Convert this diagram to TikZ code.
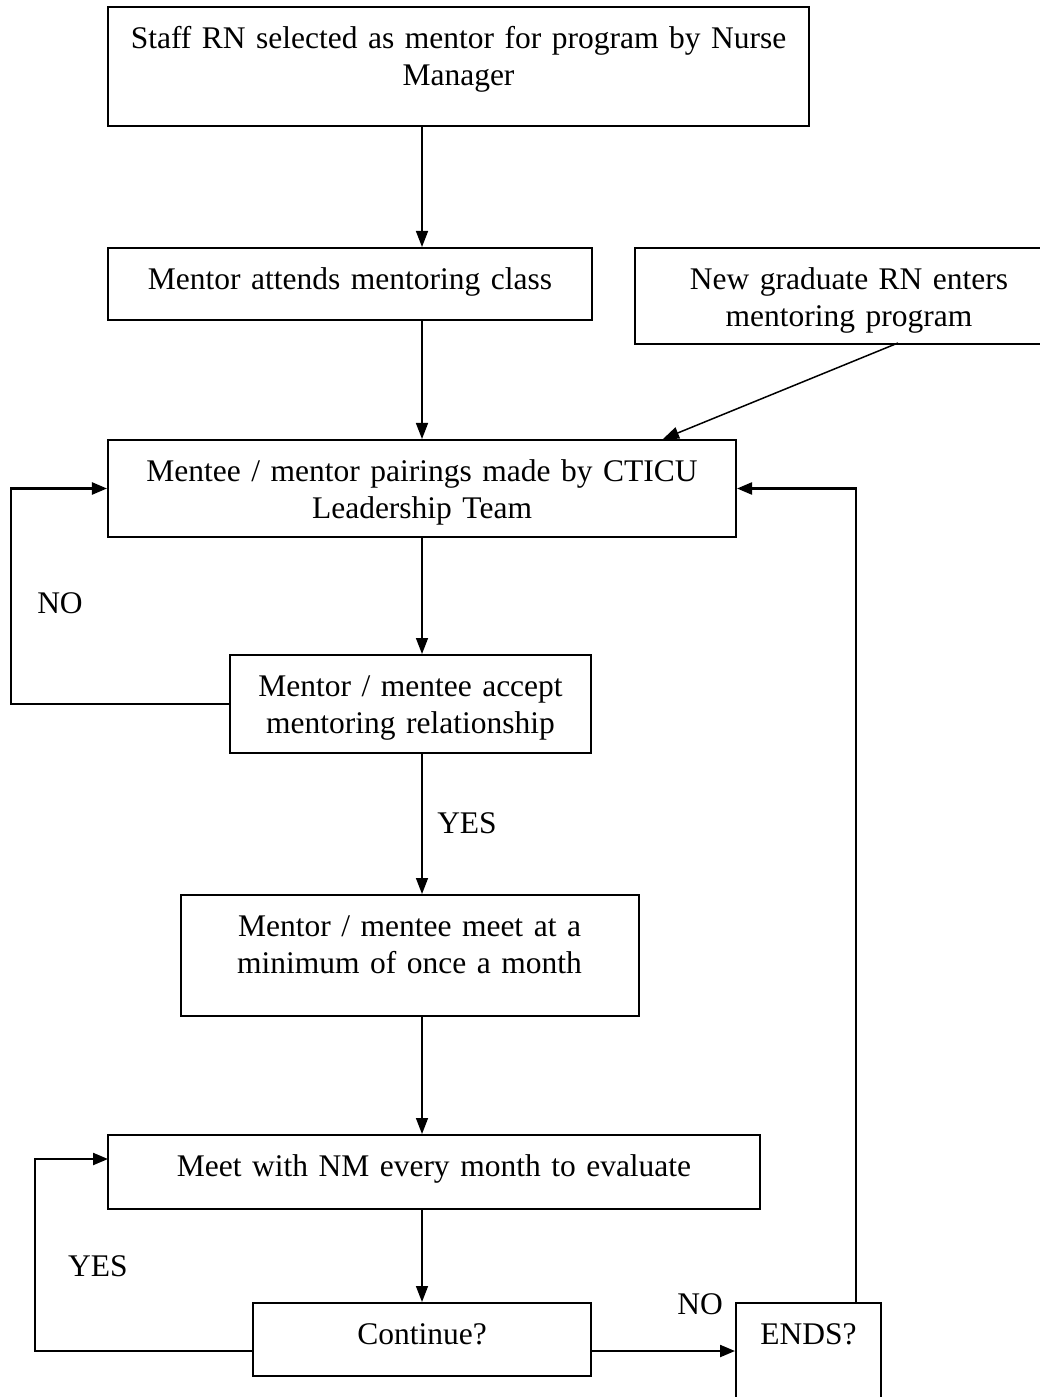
\documentclass[tikz,border=0pt]{standalone}
\usepackage{fontspec}
\setmainfont{Liberation Serif}
\usetikzlibrary{arrows.meta}

\begin{document}
\begin{tikzpicture}[x=0.4pt,y=-0.4pt,
  box/.style={draw,line width=0.8pt,anchor=north,align=center,inner xsep=0pt,inner ysep=0pt,
    font=\fontsize{12.6}{14.8}\selectfont,text height=16.6pt},
  arr/.style={line width=0.6pt,-{Triangle[length=6.4pt,width=4.8pt]}},
  loop/.style={line width=0.9pt,-{Triangle[length=6pt,width=4.8pt]}},
  tag/.style={font=\fontsize{12.6}{14.8}\selectfont,inner sep=0pt}]
\useasboundingbox (0,0) rectangle (1039,1397);
\node[box,text width=280.4pt,text depth=31pt] (staff) at (458.5,6) {Staff RN selected as mentor for program by Nurse\\Manager};
\node[box,text width=193.6pt,text depth=12.2pt] (class) at (350,247) {Mentor attends mentoring class};
\node[box,text width=171.2pt,text depth=21.8pt] (newgrad) at (849,247) {New graduate RN enters\\mentoring program};
\node[box,text width=251.2pt,text depth=22.2pt] (pair) at (422,439) {Mentee / mentor pairings made by CTICU\\Leadership Team};
\node[box,text width=144.4pt,text depth=22.6pt] (accept) at (410.5,654) {Mentor / mentee accept\\mentoring relationship};
\node[box,text width=183.2pt,text depth=31.8pt] (meet) at (409.5,894) {Mentor / mentee meet at a\\minimum of once a month};
\node[box,text width=260.8pt,text depth=13pt] (eval) at (434,1134) {Meet with NM every month to evaluate};
\node[box,text width=135.2pt,text depth=12.6pt] (cont) at (422,1302) {Continue?};
\node[box,text width=58pt,text depth=39.4pt] (ends) at (808.5,1302) {ENDS?};
% decision labels
\node[tag] (no1) at (60,603) {NO};
\node[tag] (yes1) at (467,823) {YES};
\node[tag] (yes2) at (98,1266) {YES};
\node[tag] (no2) at (700,1304) {NO};
% connector ends
\coordinate (gradout) at (898,343);
\coordinate (pairin) at (663,439);
\coordinate (evalin) at (108,1159);
\coordinate (contout) at (591,1351);
\coordinate (endsout) at (856,1302);
\draw[arr](staff.south -| pair)--(class.north -| pair);\draw[arr](class.south -| pair)--(pair.north);
\draw[arr](gradout)--(pairin);\draw[arr](pair.south)--(accept.north -| pair);
\draw[arr](accept.south -| pair)--(meet.north -| pair);\draw[arr](meet.south -| pair)--(eval.north -| pair);
\draw[arr](eval.south -| pair)--(cont.north);
\draw[loop](accept.west)--++(-218,0)|-(pair.west);
\draw[loop](cont.west |- contout)--++(-217,0)|-(evalin);
\draw[loop](contout)--(contout -| ends.west);
\draw[loop](endsout)|-(pair.east);
\end{tikzpicture}
\end{document}
